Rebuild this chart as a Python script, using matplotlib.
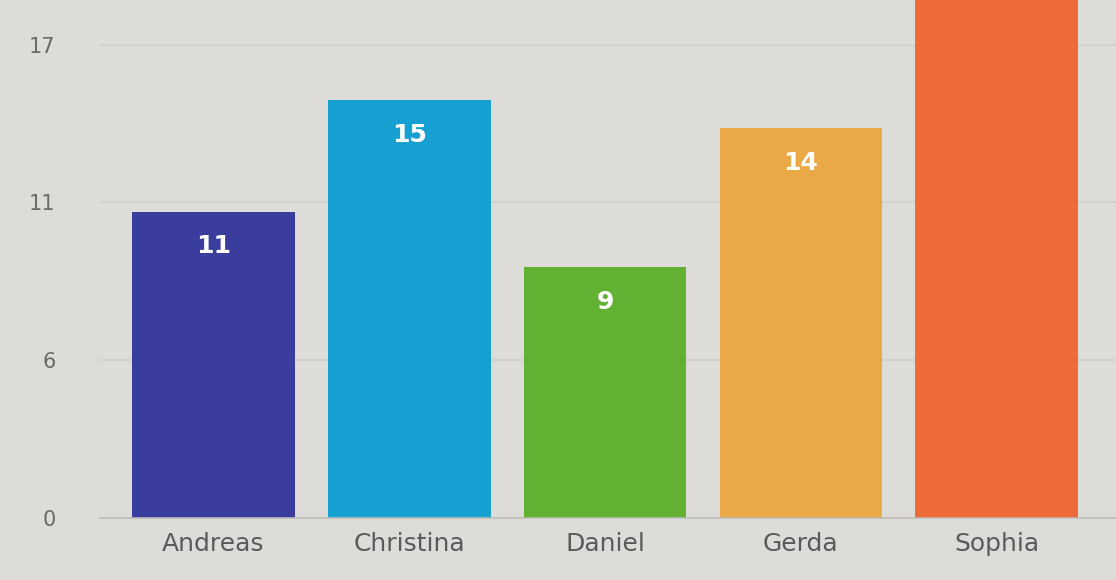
"""Bar chart of counts per person, photographed-screen style."""
import matplotlib.pyplot as plt
import numpy as np

names = ["Andreas", "Christina", "Daniel", "Gerda", "Sophia"]
counts = [11, 15, 9, 14, 20]
bar_colors = ["#3a3d9e", "#17a1d2", "#62b132", "#eaa846", "#ee6b39"]
y_ticks = [0, 17 / 3, 34 / 3, 17]
y_tick_labels = ["0", "6", "11", "17"]

BG = "#dddcd9"

fig = plt.figure(figsize=(11.16, 5.8), dpi=100, facecolor=BG)
ax = fig.add_axes([100 / 1116, 62 / 580, 1016 / 1116, 518 / 580])
ax.set_facecolor(BG)

x = np.arange(len(names))
bars = ax.bar(x, counts, width=0.83, color=bar_colors, zorder=2)

for rect, val in zip(bars, counts):
    ax.annotate(str(val), (rect.get_x() + rect.get_width() / 2, rect.get_height()),
                xytext=(0, -25), textcoords="offset points", ha="center", va="center",
                color="white", fontsize=18, fontweight="bold", zorder=3,
                annotation_clip=True)

ax.set_xlim(-0.58, 4.61)
ax.set_ylim(0, 18.6)
ax.set_yticks(y_ticks)
ax.set_yticklabels(y_tick_labels)
ax.set_xticks(x)
ax.set_xticklabels(names)

ax.grid(axis="y", color="#d0cfcc", linewidth=1.2, zorder=1)
ax.tick_params(axis="y", length=0, pad=32, labelsize=15, labelcolor="#6a6a6a")
ax.tick_params(axis="x", length=0, pad=10, labelsize=18, labelcolor="#5a5a5a")
for side in ["top", "right", "left"]:
    ax.spines[side].set_visible(False)
ax.spines["bottom"].set_color("#bdbcb9")
ax.spines["bottom"].set_linewidth(1.2)

fig.savefig("out.png", dpi=100, facecolor=BG)
